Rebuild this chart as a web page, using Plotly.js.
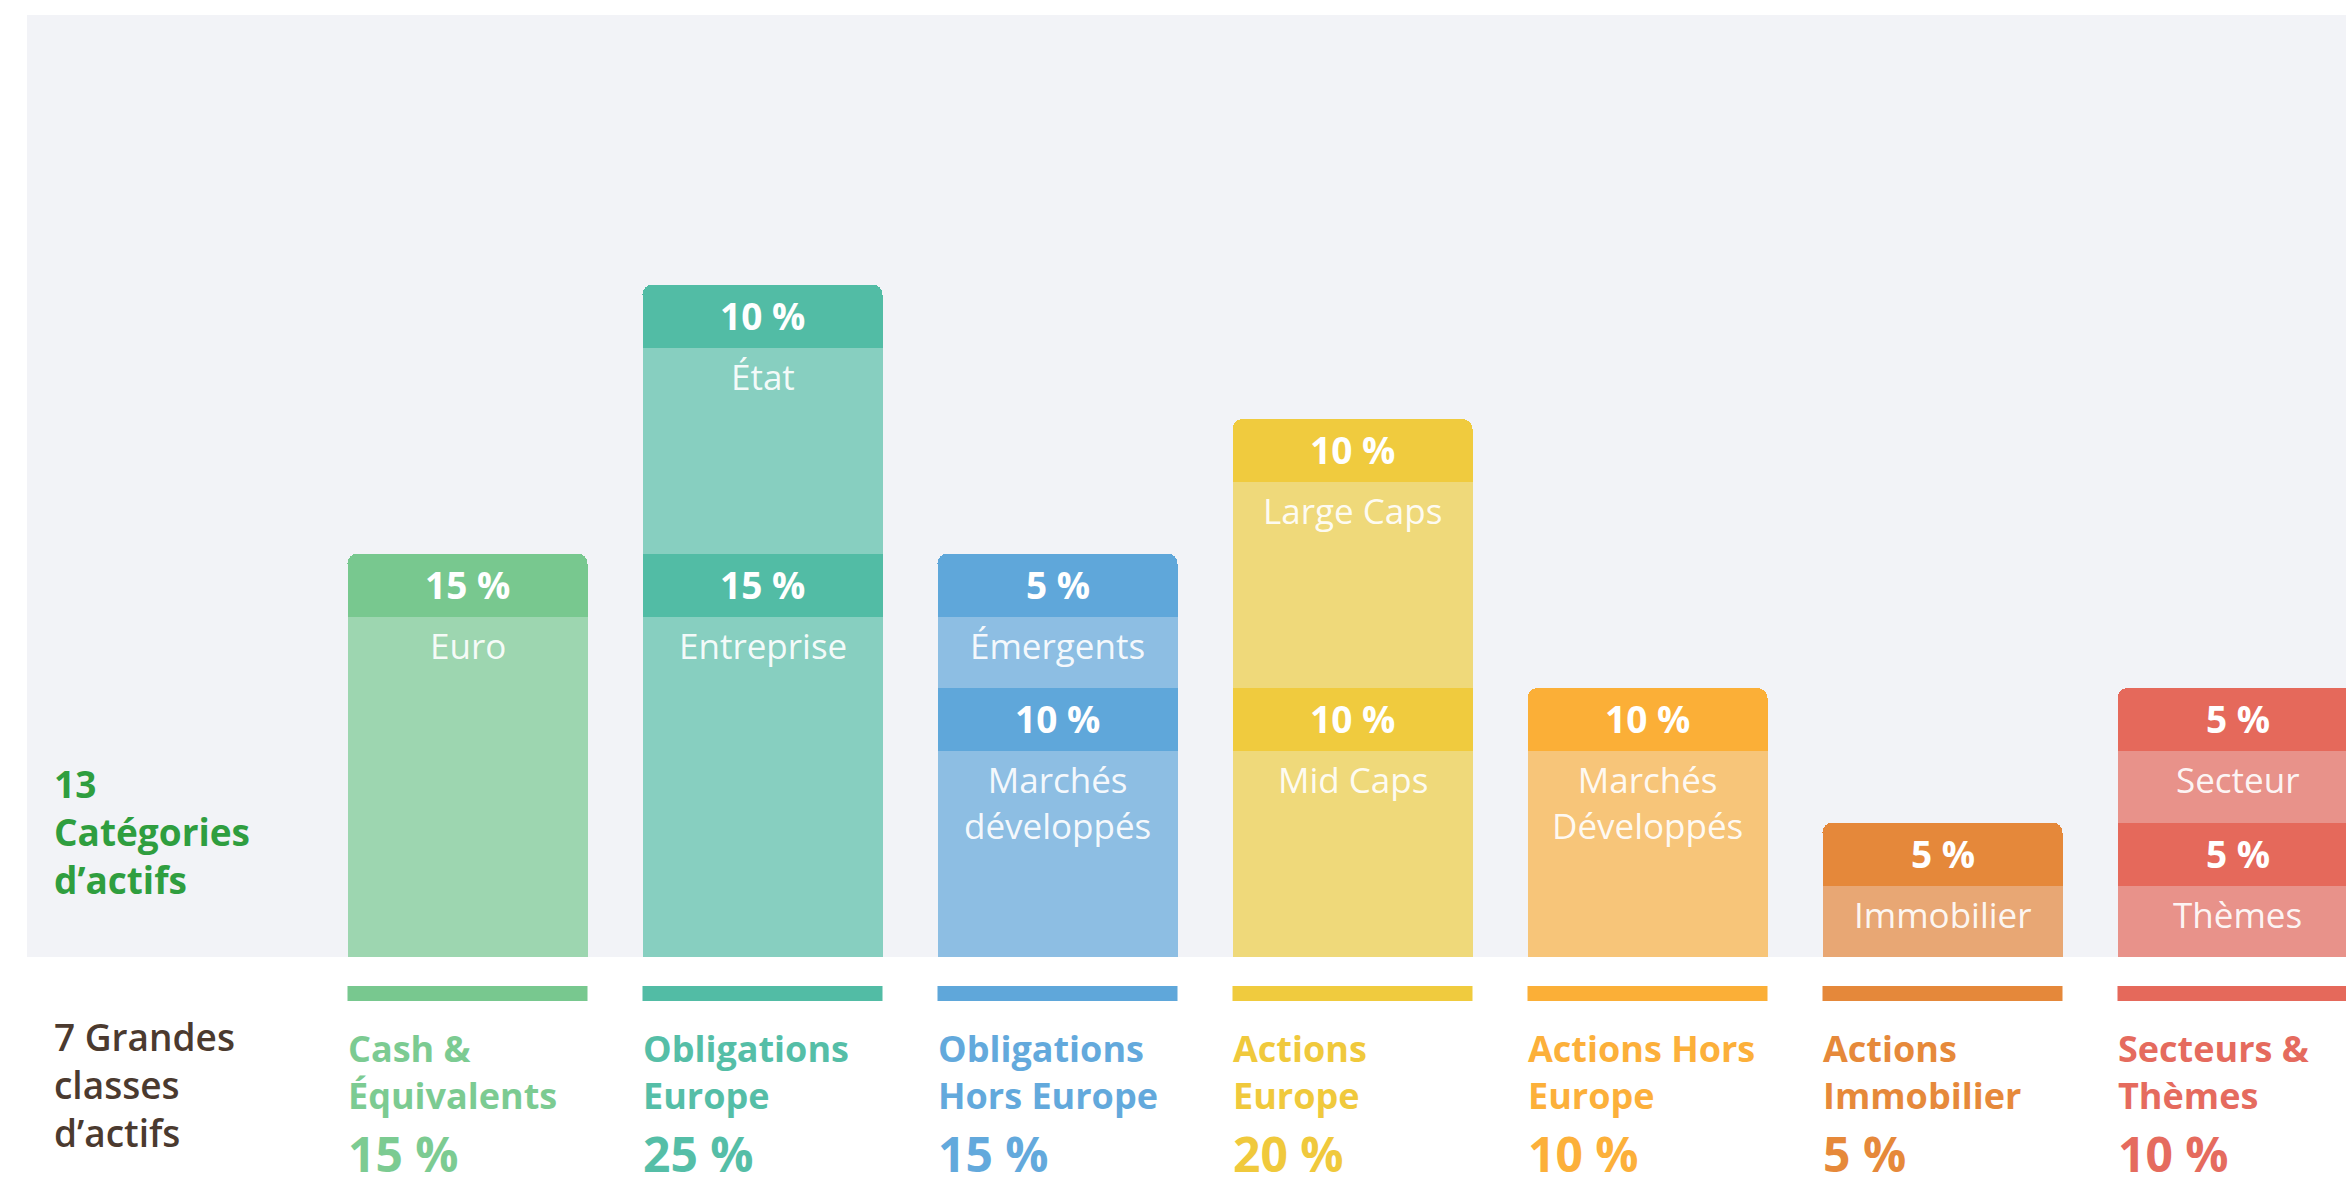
<!DOCTYPE html>
<html>
<head>
<meta charset="utf-8">
<script src="https://cdn.plot.ly/plotly-3.0.1.min.js"></script>
<style>
  html, body { margin: 0; padding: 0; background: #ffffff; }
  #chart { width: 2346px; height: 1188px; }
</style>
</head>
<body>
<div id="chart"></div>
<script>
// ---------------- DATA ----------------
const classes = ['Cash &amp;<br>Équivalents', 'Obligations<br>Europe', 'Obligations<br>Hors Europe',
                 'Actions<br>Europe', 'Actions Hors<br>Europe', 'Actions<br>Immobilier', 'Secteurs &amp;<br>Thèmes'];
const classTotals = [15, 25, 15, 20, 10, 5, 10];
const lowerCats = ['Euro', 'Entreprise', 'Marchés<br>développés', 'Mid Caps', 'Marchés<br>Développés', 'Immobilier', 'Thèmes'];
const lowerVals = [15, 15, 10, 10, 10, 5, 5];
const upperCats = [null, 'État', 'Émergents', 'Large Caps', null, null, 'Secteur'];
const upperVals = [null, 10, 5, 10, null, null, 5];
const leftTop = '13<br>Catégories<br>d’actifs';
const leftBottom = '7 Grandes<br>classes<br>d’actifs';

// ---------------- STYLE ----------------
const darkColors  = ['#78c88f', '#52bca5', '#5fa7da', '#f0cb3e', '#fbaf37', '#e5883a', '#e5695b'];
const lightColors = ['#9dd6b0', '#87cfc0', '#8dbee3', '#efd97a', '#f7c579', '#e8a774', '#e8928a'];
const textColors  = ['#7ccb92', '#55bea7', '#63a9dc', '#f0c93c', '#fcb03a', '#e6893a', '#e56b5e'];
const FONT = '"Open Sans", Lato, sans-serif';
const W = 2346, H = 1188;
const plotLeft = 27, plotTop = 15, plotBottom = 957;
const firstCenter = 440.5, step = 295, barPx = 240;  // px, relative to plot left
const pxPerUnit = 26.9;
const headerPx = 63;
const hdr = headerPx / pxPerUnit;
const barW = barPx / step;

const xs = classes.map((_, i) => i);
const plotW = W - plotLeft;
const xRange = [-firstCenter / step, (plotW - firstCenter) / step];
const yRange = [0, (plotBottom - plotTop) / pxPerUnit];

// top and inner segments of each stack
const topBase = [], topVal = [], topName = [];
const innerVal = [], innerName = [];
classes.forEach((_, i) => {
  if (upperVals[i] != null) {
    topBase.push(lowerVals[i]); topVal.push(upperVals[i]); topName.push(upperCats[i]);
    innerVal.push(lowerVals[i]); innerName.push(lowerCats[i]);
  } else {
    topBase.push(0); topVal.push(lowerVals[i]); topName.push(lowerCats[i]);
    innerVal.push(null); innerName.push(null);
  }
});

const common = { type: 'bar', x: xs, width: barW, hoverinfo: 'skip', showlegend: false };
const traces = [
  Object.assign({}, common, { y: innerVal.map(v => v == null ? null : v - hdr),
    marker: { color: lightColors, line: { width: 0 } } }),
  Object.assign({}, common, { y: innerVal.map(v => v == null ? null : hdr),
    marker: { color: darkColors, line: { width: 0 } } }),
  Object.assign({}, common, { y: topVal.map(v => v - hdr),
    marker: { color: lightColors, line: { width: 0 } } }),
  Object.assign({}, common, { y: topVal.map(() => hdr),
    marker: { color: darkColors, line: { width: 0 } } })
];

const annotations = [];
const shapes = [];
function segLabels(i, base, val, name) {
  const top = base + val;
  annotations.push({ x: i, y: top - hdr / 2, xref: 'x', yref: 'y', text: '<b>' + val + ' %</b>',
    showarrow: false, xanchor: 'center', yanchor: 'middle', yshift: 1,
    font: { family: FONT, size: 37, color: '#ffffff' } });
  annotations.push({ x: i, y: top - hdr, xref: 'x', yref: 'y', text: name,
    showarrow: false, xanchor: 'center', yanchor: 'top', yshift: -3, align: 'center',
    font: { family: FONT, size: 35, color: 'rgba(255,255,255,0.93)', weight: 500 } });
}
classes.forEach((c, i) => {
  segLabels(i, topBase[i], topVal[i], topName[i]);
  if (innerVal[i] != null) segLabels(i, 0, innerVal[i], innerName[i]);
  // colored strip under each class
  shapes.push({ type: 'rect', xref: 'x', yref: 'paper', x0: i - barW / 2, x1: i + barW / 2,
    y0: 1 - 1001 / H, y1: 1 - 986 / H, fillcolor: darkColors[i], line: { width: 0 } });
  // class label and total
  annotations.push({ x: i - barW / 2, y: 1 - 1072 / H, xref: 'x', yref: 'paper', text: '<b>' + c + '</b>',
    showarrow: false, xanchor: 'left', yanchor: 'middle', align: 'left', xshift: -2,
    font: { family: FONT, size: 36, color: textColors[i] } });
  annotations.push({ x: i - barW / 2, y: 0, xref: 'x', yref: 'paper', text: '<b>' + classTotals[i] + ' %</b>',
    showarrow: false, xanchor: 'left', yanchor: 'bottom', align: 'left', xshift: -2, yshift: 0,
    font: { family: FONT, size: 48, color: textColors[i] } });
});
annotations.push({ x: 52 / W, y: 1 - 831 / H, xref: 'paper', yref: 'paper', text: '<b>' + leftTop + '</b>',
  showarrow: false, xanchor: 'left', yanchor: 'middle', align: 'left',
  font: { family: FONT, size: 37, color: '#2f9e3f' } });
annotations.push({ x: 52 / W, y: 1 - 1084 / H, xref: 'paper', yref: 'paper', text: leftBottom,
  showarrow: false, xanchor: 'left', yanchor: 'middle', align: 'left',
  font: { family: FONT, size: 37, color: '#4b3a2f', weight: 600 } });

const layout = {
  width: W, height: H,
  margin: { l: 0, r: 0, t: 0, b: 0, pad: 0 },
  paper_bgcolor: '#ffffff',
  plot_bgcolor: '#f2f3f7',
  barmode: 'stack',
  barcornerradius: 10,
  bargap: 0,
  xaxis: { domain: [plotLeft / W, 1], range: xRange, visible: false, fixedrange: true },
  yaxis: { domain: [1 - plotBottom / H, 1 - plotTop / H], range: yRange, visible: false, fixedrange: true },
  annotations: annotations,
  shapes: shapes,
  font: { family: FONT }
};

Plotly.newPlot('chart', traces, layout, { displayModeBar: false, staticPlot: true });
</script>
</body>
</html>
